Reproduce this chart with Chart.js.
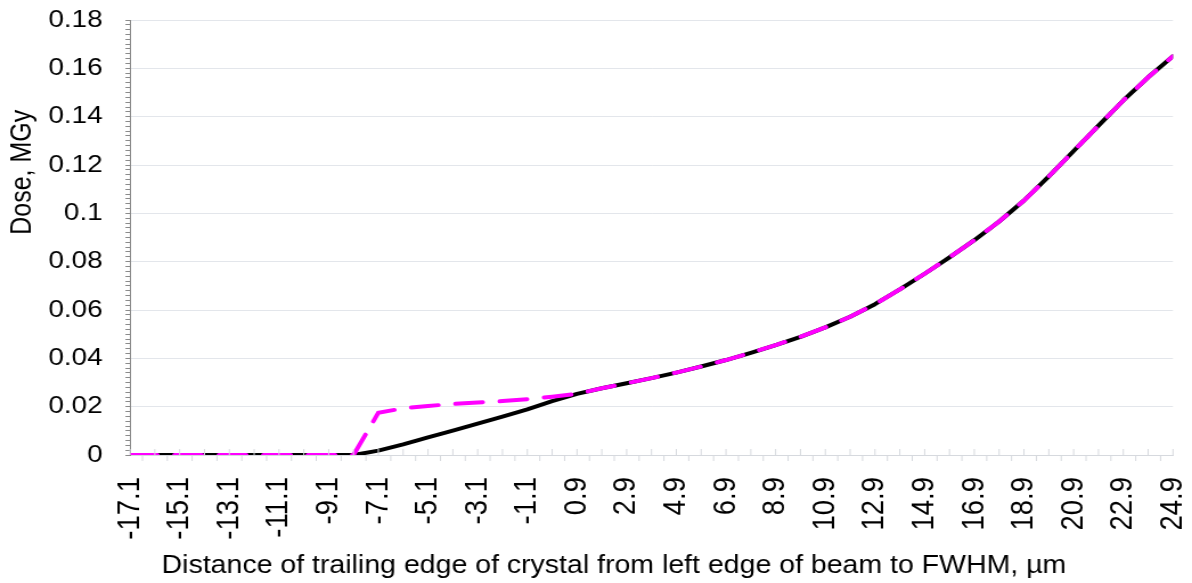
<!DOCTYPE html>
<html>
<head>
<meta charset="utf-8">
<script src="https://cdn.jsdelivr.net/npm/chart.js@4/dist/chart.umd.min.js"></script>
<style>
  html, body { margin: 0; padding: 0; background: #ffffff; overflow: hidden; }
  #page { width: 1192px; height: 583px; overflow: hidden; }
  /* the chart is laid out narrow and widened to the page, giving the wide lettering */
  #wrap { width: 1046px; height: 583px; transform: scaleX(1.13958); transform-origin: 0 0; }
</style>
</head>
<body>
<div id="page"><div id="wrap"><canvas id="dose" width="1046" height="583"></canvas></div></div>
<script>
// Position of the crystal's trailing edge relative to the beam's left edge (µm)
const distance = [
  -17.1, -16.1, -15.1, -14.1, -13.1, -12.1, -11.1, -10.1, -9.1, -8.1,
  -7.1, -6.1, -5.1, -4.1, -3.1, -2.1, -1.1, -0.1, 0.9, 1.9,
  2.9, 3.9, 4.9, 5.9, 6.9, 7.9, 8.9, 9.9, 10.9, 11.9,
  12.9, 13.9, 14.9, 15.9, 16.9, 17.9, 18.9, 19.9, 20.9, 21.9,
  22.9, 23.9, 24.9
];

// Dose (MGy), solid black curve
const doseSolid = [
  0, 0, 0, 0, 0, 0, 0, 0, 0, 0,
  0.0018, 0.0044, 0.0073, 0.0101, 0.0130, 0.0159, 0.0189, 0.0223, 0.0253, 0.0276,
  0.0297, 0.0318, 0.0341, 0.0366, 0.0393, 0.0423, 0.0455, 0.0489, 0.0528, 0.0572,
  0.0624, 0.0685, 0.0750, 0.0818, 0.0889, 0.0966, 0.1053, 0.1153, 0.1258, 0.1363,
  0.1467, 0.1563, 0.1650
];

// Dose (MGy), dashed magenta curve
const doseDashed = [
  0, 0, 0, 0, 0, 0, 0, 0, 0, 0,
  0.0175, 0.0193, 0.0203, 0.0211, 0.0217, 0.0223, 0.0231, 0.0241, 0.0253, 0.0276,
  0.0297, 0.0318, 0.0341, 0.0366, 0.0393, 0.0423, 0.0455, 0.0489, 0.0528, 0.0572,
  0.0624, 0.0685, 0.0750, 0.0818, 0.0889, 0.0966, 0.1053, 0.1153, 0.1258, 0.1363,
  0.1467, 0.1563, 0.1650
];

// Axis tick labels
const xTickLabels = [
  '-17.1', '-15.1', '-13.1', '-11.1', '-9.1', '-7.1', '-5.1', '-3.1', '-1.1', '0.9',
  '2.9', '4.9', '6.9', '8.9', '10.9', '12.9', '14.9', '16.9', '18.9', '20.9',
  '22.9', '24.9'
];
const yTickLabels = ['0', '0.02', '0.04', '0.06', '0.08', '0.1', '0.12', '0.14', '0.16', '0.18'];

const xTitle = 'Distance of trailing edge of crystal from left edge of beam to FWHM, µm';
const yTitle = 'Dose, MGy';

const FONT = "'Liberation Sans', Arial, sans-serif";
const X_TICK_SIZE = 27.5;
const Y_TICK_SIZE = 24.5;
const TITLE_SIZE = 25;
const GRID = '#e3e6eb';
const AXIS_DARK = '#8a8a8a';

const toPoints = (ys) => distance.map((x, i) => ({ x: x, y: ys[i] }));

const yMajorIndex = (v) => {
  const k = v / 0.02;
  return Math.abs(k - Math.round(k)) < 1e-6 ? Math.round(k) : -1;
};

// Small inside/outside tick marks along the horizontal axis,
// and the two axis titles.
const axisDecor = {
  id: 'axisDecor',
  afterDraw(chart) {
    const { ctx, chartArea, scales } = chart;
    const xs = scales.x;
    const yBase = Math.round(scales.y.getPixelForValue(0));
    ctx.save();
    ctx.strokeStyle = '#d6d9de';
    ctx.lineWidth = 1;
    ctx.beginPath();
    distance.forEach((v) => {
      const px = xs.getPixelForValue(v);
      ctx.moveTo(px, yBase);
      ctx.lineTo(px, yBase - 6);
      if (v + 0.5 < xs.max) {
        const hx = xs.getPixelForValue(v + 0.5);
        ctx.moveTo(hx, yBase);
        ctx.lineTo(hx, yBase + 6);
      }
    });
    ctx.stroke();

    ctx.fillStyle = '#000000';
    ctx.font = TITLE_SIZE + 'px ' + FONT;
    ctx.textAlign = 'center';
    ctx.textBaseline = 'middle';
    ctx.fillText(xTitle, chartArea.left + (chartArea.right - chartArea.left) * 0.464, chart.height - 17);

    ctx.translate(20, chartArea.top + (chartArea.bottom - chartArea.top) * 0.35);
    ctx.rotate(-Math.PI / 2);
    ctx.fillText(yTitle, 0, 0);
    ctx.restore();
  }
};

new Chart(document.getElementById('dose'), {
  type: 'line',
  data: {
    datasets: [
      {
        label: 'dashed',
        data: toPoints(doseDashed),
        borderColor: '#ff00ff',
        borderWidth: 4,
        borderDash: [24, 15],
        borderCapStyle: 'round',
        pointRadius: 0,
        tension: 0,
        fill: false,
        order: 0
      },
      {
        label: 'solid',
        data: toPoints(doseSolid),
        borderColor: '#000000',
        borderWidth: 4,
        borderCapStyle: 'round',
        borderJoinStyle: 'round',
        pointRadius: 0,
        tension: 0,
        fill: false,
        order: 1
      }
    ]
  },
  options: {
    responsive: false,
    animation: false,
    devicePixelRatio: 1,
    layout: { padding: { left: 0, right: 16.7, top: 20, bottom: 0 } },
    plugins: { legend: { display: false }, tooltip: { enabled: false } },
    scales: {
      x: {
        type: 'linear',
        min: -17.1,
        max: 24.9,
        afterBuildTicks: (scale) => {
          scale.ticks = xTickLabels.map((s) => ({ value: parseFloat(s) }));
        },
        afterFit: (scale) => {
          scale.height = 128;
          scale.paddingLeft = 0;
          scale.paddingRight = 0;
        },
        grid: { drawOnChartArea: false, drawTicks: false },
        border: { color: '#d6d9de', width: 1 },
        ticks: {
          autoSkip: false,
          maxRotation: 90,
          minRotation: 90,
          padding: 22,
          color: '#000000',
          font: { family: FONT, size: X_TICK_SIZE },
          callback: (value) => {
            const hit = xTickLabels.find((s) => Math.abs(parseFloat(s) - value) < 1e-6);
            return hit === undefined ? '' : hit;
          }
        }
      },
      y: {
        type: 'linear',
        min: 0,
        max: 0.18,
        afterFit: (scale) => {
          scale.width = 114.1;
          scale.paddingTop = 0;
          scale.paddingBottom = 0;
        },
        grid: {
          color: (c) => (c.tick && yMajorIndex(c.tick.value) >= 0 ? GRID : 'rgba(0,0,0,0)'),
          tickColor: AXIS_DARK,
          tickLength: 4,
          lineWidth: 1
        },
        border: { color: AXIS_DARK, width: 1 },
        ticks: {
          stepSize: 0.002,
          maxTicksLimit: 200,
          autoSkip: false,
          padding: 20,
          color: '#000000',
          font: { family: FONT, size: Y_TICK_SIZE },
          callback: (value) => {
            const k = yMajorIndex(value);
            return k >= 0 ? yTickLabels[k] : '';
          }
        }
      }
    }
  },
  plugins: [axisDecor]
});
</script>
</body>
</html>
